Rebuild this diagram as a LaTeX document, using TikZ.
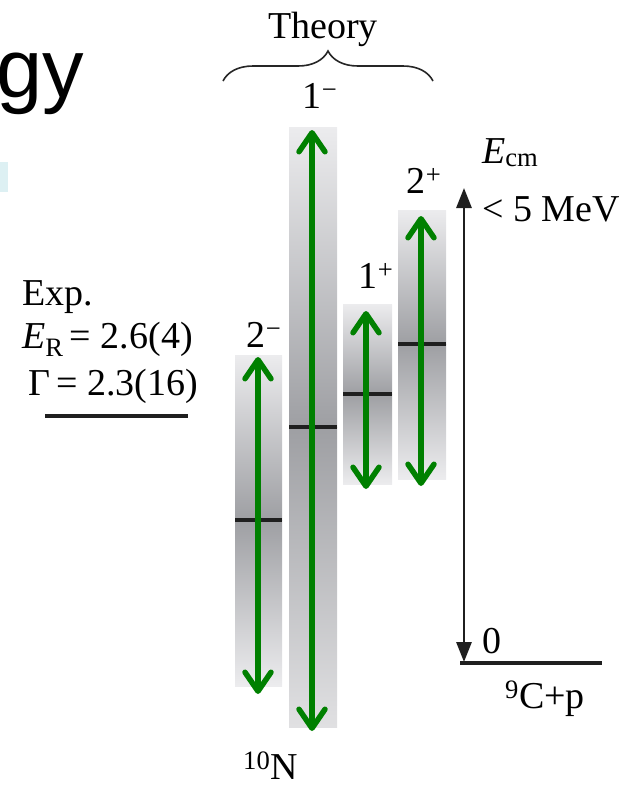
\documentclass[tikz,border=0pt]{standalone}
\usepackage{fontspec}
\setmainfont{Liberation Serif}
\newfontfamily\slidefont{Liberation Sans}
\usetikzlibrary{arrows.meta,decorations.pathreplacing}
\definecolor{barlight}{RGB}{236,236,238}
\definecolor{bardark}{RGB}{158,159,163}
\definecolor{widthgreen}{RGB}{0,128,0}
\definecolor{slidecyan}{RGB}{221,240,243}

\begin{document}
\begin{tikzpicture}[x=1pt,y=-1pt,
 every node/.style={inner sep=0pt,font=\fontsize{38}{40}\selectfont},
 >={Straight Barb[length=19pt,width=26pt,round]},
 widtharrow/.style={widthgreen,line width=5.5pt,line cap=round,<->},
 levelline/.style={line width=3.8pt,black!88},
 axisline/.style={line width=2.8pt,black!88,
   {Triangle[length=20pt,width=15pt]}-{Triangle[length=20pt,width=15pt]}}]
 \useasboundingbox (0,0) rectangle (634,788);
 % remains of the slide
 \node[font=\slidefont\fontsize{83}{90}\selectfont,anchor=base west] (slide) at (-4,97) {gy};
 \fill[slidecyan] (0,162) rectangle (8,192);
 % theory bars
 \shade[top color=barlight,bottom color=bardark] (235,355) rectangle (282,520);
 \shade[top color=bardark,bottom color=barlight] (235,520) rectangle (282,686);
 \shade[top color=barlight,bottom color=bardark] (289,127) rectangle (337,427);
 \shade[top color=bardark,bottom color=barlight!95!black] (289,427) rectangle (337,727);
 \shade[top color=barlight,bottom color=bardark] (343,304) rectangle (392,394);
 \shade[top color=bardark,bottom color=barlight] (343,394) rectangle (392,484);
 \shade[top color=barlight,bottom color=bardark] (398,210) rectangle (446,344);
 \shade[top color=bardark,bottom color=barlight] (398,344) rectangle (446,479);
 \draw[levelline] (235,520) -- (282,520);
 \draw[levelline] (289,427) -- (337,427);
 \draw[levelline] (343,394) -- (392,394);
 \draw[levelline] (398,344) -- (446,344);
 \coordinate (m2top) at (258,357);
 \coordinate (m2bot) at (258,694);
 \coordinate (m1top) at (312,130);
 \coordinate (m1bot) at (312,731);
 \coordinate (p1top) at (366,311);
 \coordinate (p1bot) at (366,489);
 \coordinate (p2top) at (421,216);
 \coordinate (p2bot) at (421,486);
 \draw[widtharrow] (m2bot) -- (m2top);
 \draw[widtharrow] (m1bot) -- (m1top);
 \draw[widtharrow] (p1bot) -- (p1top);
 \draw[widtharrow] (p2bot) -- (p2top);
 \node[anchor=base] (minus2) at (264,347) {2\textsuperscript{−}};
 \node[anchor=base] (minus1) at (320,108) {1\textsuperscript{−}};
 \node[anchor=base] (plus1) at (376,288) {1\textsuperscript{+}};
 \node[anchor=base] (plus2) at (424,193) {2\textsuperscript{+}};
 \node[anchor=base west] (nucleus) at (243,779) {\textsuperscript{10}N};
 % theory brace
 \coordinate (brleft) at (223,81);
 \coordinate (brright) at (433,81);
 \draw[decorate,decoration={brace,amplitude=30pt},line width=1.6pt,black!85] (brleft) -- (brright);
 \node[anchor=base] (theory) at (323,38) {Theory};
 % experiment
 \node[anchor=base west] (exp) at (22,305) {Exp.};
 \node[anchor=base west] (eres) at (22,348) {\textit{E}\textsubscript{R}\,= 2.6(4)};
 \node[anchor=base west] (gamma) at (28,395) {Γ\,= 2.3(16)};
 \coordinate (expleft) at (45,416);
 \coordinate (expright) at (188,416);
 \draw[levelline] (expleft) -- (expright);
 % energy axis
 \coordinate (etop) at (464,188);
 \coordinate (ezero) at (464,662);
 \coordinate (thrleft) at (460,663);
 \coordinate (thrright) at (602,663);
 \draw[axisline] (ezero) -- (etop);
 \draw[line width=3.5pt,black!88] (thrleft) -- (thrright);
 \node[anchor=base west] (ecm) at (482,163) {\textit{E}\textsubscript{cm}};
 \node[anchor=base west] (emax) at (482,221) {< 5 MeV};
 \node[anchor=base west] (ezerolab) at (482,653) {0};
 \node[anchor=base west] (thresh) at (505,708) {\textsuperscript{9}C+p};
\end{tikzpicture}
\end{document}
